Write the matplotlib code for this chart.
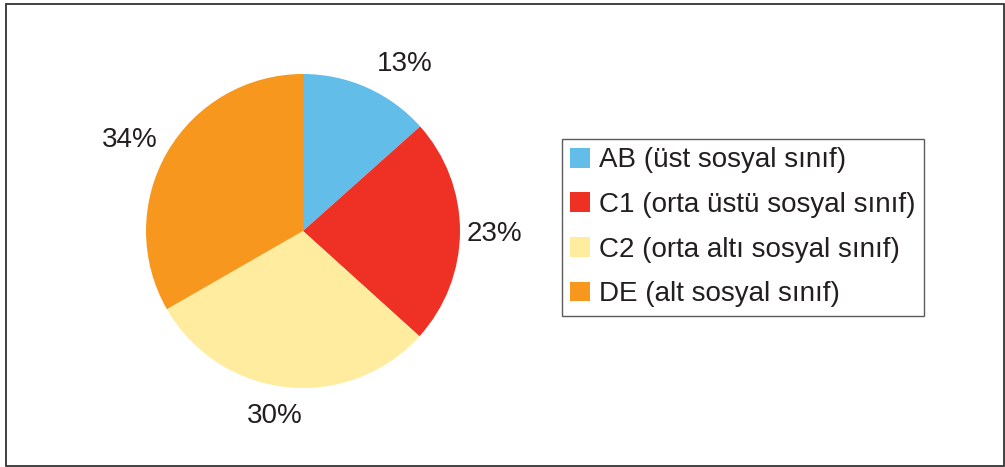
import matplotlib.pyplot as plt
from matplotlib.patches import Rectangle

# Social class distribution (slice sizes, printed labels as shown)
labels = ["AB (üst sosyal sınıf)", "C1 (orta üstü sosyal sınıf)",
          "C2 (orta altı sosyal sınıf)", "DE (alt sosyal sınıf)"]
shares = [13.4, 23.3, 30.0, 33.3]
pct_labels = ["13%", "23%", "30%", "34%"]
colors = ["#62BDE8", "#EE3124", "#FFEC9E", "#F7971D"]

plt.rcParams['font.family'] = ['Liberation Sans', 'DejaVu Sans']

fig = plt.figure(figsize=(10.05, 4.67), dpi=100)

# outer frame
fig.patches.append(Rectangle((6 / 1005, 1 / 467), 998 / 1005, 462 / 467,
                             transform=fig.transFigure, fill=False,
                             edgecolor='#333333', linewidth=1.3))

ax = fig.add_axes([0.1453, 0.1692, 0.3124, 0.6724])
wedges, texts = ax.pie(
    shares, colors=colors, startangle=90, counterclock=False,
    labels=pct_labels, labeldistance=1.22,
    textprops=dict(fontsize=20, color='#231F20'))
ax.set_xlim(-1, 1)
ax.set_ylim(-1, 1)
ax.set_aspect('equal')

# center the labels and nudge them a little (data units)
nudges = [(0.15, -0.05), (0.0, -0.015), (-0.05, 0.035), (-0.045, -0.03)]
for t, (dx, dy) in zip(texts, nudges):
    x, y = t.get_position()
    t.set_position((x + dx, y + dy))
    t.set_ha('center')
    t.set_va('center')

leg = fig.legend(wedges, labels, loc='upper left',
                 bbox_to_anchor=(562 / 1005, 1 - 139 / 467),
                 fontsize=20, frameon=True, fancybox=False,
                 edgecolor='#333333', handlelength=0.72, handleheight=0.72,
                 handletextpad=0.3, labelspacing=0.67, borderpad=0.3,
                 borderaxespad=0)
leg.get_frame().set_linewidth(1.0)
for t in leg.get_texts():
    t.set_color('#231F20')

plt.savefig("out.png", dpi=100)
